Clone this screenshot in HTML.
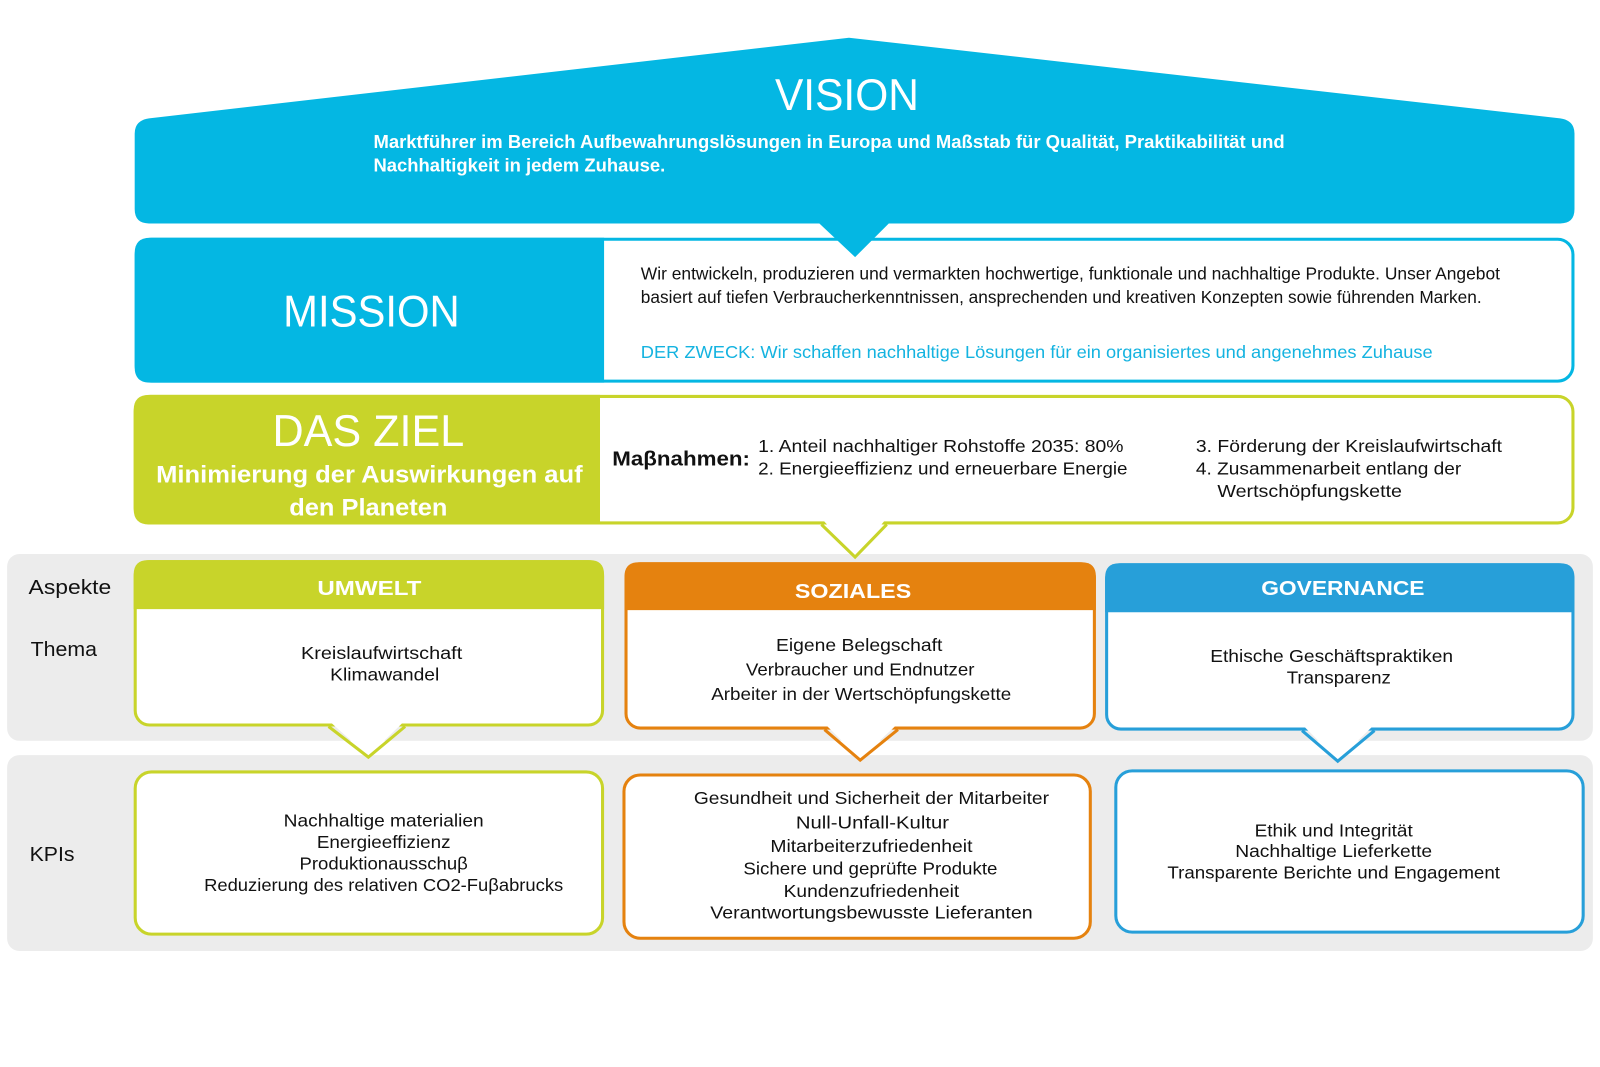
<!DOCTYPE html>
<html><head><meta charset="utf-8"><style>
html,body{margin:0;padding:0;background:#fff;}
svg{display:block;}
text{font-family:"Liberation Sans",sans-serif;}
.b{fill:#111;font-size:17px;}
.w{fill:#fff;}
</style></head><body>
<svg width="1600" height="1067" viewBox="0 0 1568 1045.7" preserveAspectRatio="none" xmlns="http://www.w3.org/2000/svg">
<!-- grey bands -->
<rect x="7" y="543" width="1554" height="183" rx="12" fill="#ececec"/>
<rect x="7" y="740" width="1554" height="192" rx="12" fill="#ececec"/>

<!-- MISSION -->
<rect x="133.5" y="234.5" width="1408" height="139" rx="15" fill="#fff" stroke="#04b7e3" stroke-width="3"/>
<path d="M592,233 L147,233 Q132,233 132,248 L132,360 Q132,375 147,375 L592,375 Z" fill="#04b7e3"/>

<!-- VISION -->
<path d="M132,131 Q132,118 146,116 L832,37 L1529,116 Q1543,118 1543,131 L1543,205 Q1543,219 1529,219 L871,219 L838,252 L803,219 L146,219 Q132,219 132,205 Z" fill="#04b7e3"/>

<text x="830" y="108" class="w" font-size="44" text-anchor="middle" textLength="141" lengthAdjust="spacingAndGlyphs">VISION</text>
<text x="366" y="145" class="w" font-size="18" font-weight="bold" textLength="893" lengthAdjust="spacingAndGlyphs">Marktführer im Bereich Aufbewahrungslösungen in Europa und Maßstab für Qualität, Praktikabilität und</text>
<text x="366" y="168" class="w" font-size="18" font-weight="bold" textLength="286" lengthAdjust="spacingAndGlyphs">Nachhaltigkeit in jedem Zuhause.</text>

<text x="364" y="320" class="w" font-size="44" text-anchor="middle" textLength="173" lengthAdjust="spacingAndGlyphs">MISSION</text>
<text x="628" y="274" class="b" font-size="16" textLength="842" lengthAdjust="spacingAndGlyphs">Wir entwickeln, produzieren und vermarkten hochwertige, funktionale und nachhaltige Produkte. Unser Angebot</text>
<text x="628" y="297" class="b" font-size="16" textLength="824" lengthAdjust="spacingAndGlyphs">basiert auf tiefen Verbraucherkenntnissen, ansprechenden und kreativen Konzepten sowie führenden Marken.</text>
<text x="628" y="351" font-size="17" fill="#14b3e0" textLength="776" lengthAdjust="spacingAndGlyphs">DER ZWECK: Wir schaffen nachhaltige Lösungen für ein organisiertes und angenehmes Zuhause</text>

<!-- DAS ZIEL -->
<rect x="132.5" y="388.5" width="1409" height="124" rx="15" fill="#fff" stroke="#c8d42a" stroke-width="3"/>
<path d="M588,387 L146,387 Q131,387 131,402 L131,499 Q131,514 146,514 L588,514 Z" fill="#c8d42a"/>
<polygon points="806,509 838,545 868,509" fill="#fff"/>
<polyline points="805,514 838,546 869,514" fill="none" stroke="#c8d42a" stroke-width="3"/>

<text x="361" y="437" class="w" font-size="44" text-anchor="middle" textLength="188" lengthAdjust="spacingAndGlyphs">DAS ZIEL</text>
<text x="362" y="473" class="w" font-size="24" font-weight="bold" text-anchor="middle" textLength="418" lengthAdjust="spacingAndGlyphs">Minimierung der Auswirkungen auf</text>
<text x="361" y="505" class="w" font-size="24" font-weight="bold" text-anchor="middle" textLength="155" lengthAdjust="spacingAndGlyphs">den Planeten</text>

<text x="600" y="456" font-size="20" font-weight="bold" fill="#111" textLength="135" lengthAdjust="spacingAndGlyphs">Maβnahmen:</text>
<text x="743" y="443" class="b" textLength="358" lengthAdjust="spacingAndGlyphs">1. Anteil nachhaltiger Rohstoffe 2035: 80%</text>
<text x="743" y="465" class="b" textLength="362" lengthAdjust="spacingAndGlyphs">2. Energieeffizienz und erneuerbare Energie</text>
<text x="1172" y="443" class="b" textLength="300" lengthAdjust="spacingAndGlyphs">3. Förderung der Kreislaufwirtschaft</text>
<text x="1172" y="465" class="b" textLength="260" lengthAdjust="spacingAndGlyphs">4. Zusammenarbeit entlang der</text>
<text x="1193" y="487" class="b" textLength="181" lengthAdjust="spacingAndGlyphs">Wertschöpfungskette</text>

<!-- labels -->
<text x="28" y="582" font-size="20" fill="#111" textLength="81" lengthAdjust="spacingAndGlyphs">Aspekte</text>
<text x="30" y="643" font-size="20" fill="#111" textLength="65" lengthAdjust="spacingAndGlyphs">Thema</text>
<text x="29" y="844" font-size="20" fill="#111" textLength="44" lengthAdjust="spacingAndGlyphs">KPIs</text>

<!-- UMWELT -->
<rect x="132.5" y="550.5" width="458" height="160" rx="14" fill="#fff" stroke="#c8d42a" stroke-width="3"/>
<path d="M131,597 L131,563 Q131,549 145,549 L578,549 Q592,549 592,563 L592,597 Z" fill="#c8d42a"/>
<polygon points="323,707 361,741 396,707" fill="#fff"/>
<polyline points="322,712 361,742 397,712" fill="none" stroke="#c8d42a" stroke-width="3"/>
<text x="362" y="583" class="w" font-size="20" font-weight="bold" text-anchor="middle" textLength="102" lengthAdjust="spacingAndGlyphs">UMWELT</text>
<text x="374" y="646" class="b" text-anchor="middle" textLength="158" lengthAdjust="spacingAndGlyphs">Kreislaufwirtschaft</text>
<text x="377" y="667" class="b" text-anchor="middle" textLength="107" lengthAdjust="spacingAndGlyphs">Klimawandel</text>

<!-- SOZIALES -->
<rect x="613.5" y="552.5" width="459" height="161" rx="14" fill="#fff" stroke="#e5820f" stroke-width="3"/>
<path d="M612,598 L612,565 Q612,551 626,551 L1060,551 Q1074,551 1074,565 L1074,598 Z" fill="#e5820f"/>
<polygon points="809,710 843,744 879,710" fill="#fff"/>
<polyline points="808,715 843,745 880,715" fill="none" stroke="#e5820f" stroke-width="3"/>
<text x="836" y="586" class="w" font-size="20" font-weight="bold" text-anchor="middle" textLength="114" lengthAdjust="spacingAndGlyphs">SOZIALES</text>
<text x="842" y="638" class="b" text-anchor="middle" textLength="163" lengthAdjust="spacingAndGlyphs">Eigene Belegschaft</text>
<text x="843" y="662" class="b" text-anchor="middle" textLength="224" lengthAdjust="spacingAndGlyphs">Verbraucher und Endnutzer</text>
<text x="844" y="686" class="b" text-anchor="middle" textLength="294" lengthAdjust="spacingAndGlyphs">Arbeiter in der Wertschöpfungskette</text>

<!-- GOVERNANCE -->
<rect x="1084.5" y="553.5" width="457" height="161" rx="14" fill="#fff" stroke="#279fd9" stroke-width="3"/>
<path d="M1083,600 L1083,566 Q1083,552 1097,552 L1529,552 Q1543,552 1543,566 L1543,600 Z" fill="#279fd9"/>
<polygon points="1277,711 1311,745 1346,711" fill="#fff"/>
<polyline points="1276,716 1311,746 1347,716" fill="none" stroke="#279fd9" stroke-width="3"/>
<text x="1316" y="583" class="w" font-size="20" font-weight="bold" text-anchor="middle" textLength="160" lengthAdjust="spacingAndGlyphs">GOVERNANCE</text>
<text x="1305" y="649" class="b" text-anchor="middle" textLength="238" lengthAdjust="spacingAndGlyphs">Ethische Geschäftspraktiken</text>
<text x="1312" y="670" class="b" text-anchor="middle" textLength="102" lengthAdjust="spacingAndGlyphs">Transparenz</text>

<!-- KPI boxes -->
<rect x="132.5" y="756.5" width="458" height="159" rx="16" fill="#fff" stroke="#c8d42a" stroke-width="3"/>
<text x="376" y="810" class="b" text-anchor="middle" textLength="196" lengthAdjust="spacingAndGlyphs">Nachhaltige materialien</text>
<text x="376" y="831" class="b" text-anchor="middle" textLength="131" lengthAdjust="spacingAndGlyphs">Energieeffizienz</text>
<text x="376" y="852" class="b" text-anchor="middle" textLength="165" lengthAdjust="spacingAndGlyphs">Produktionausschuβ</text>
<text x="376" y="873" class="b" text-anchor="middle" textLength="352" lengthAdjust="spacingAndGlyphs">Reduzierung des relativen CO2-Fuβabrucks</text>

<rect x="611.5" y="759.5" width="457" height="160" rx="16" fill="#fff" stroke="#e5820f" stroke-width="3"/>
<text x="854" y="788" class="b" text-anchor="middle" textLength="348" lengthAdjust="spacingAndGlyphs">Gesundheit und Sicherheit der Mitarbeiter</text>
<text x="855" y="812" class="b" text-anchor="middle" textLength="150" lengthAdjust="spacingAndGlyphs">Null-Unfall-Kultur</text>
<text x="854" y="835" class="b" text-anchor="middle" textLength="198" lengthAdjust="spacingAndGlyphs">Mitarbeiterzufriedenheit</text>
<text x="853" y="857" class="b" text-anchor="middle" textLength="249" lengthAdjust="spacingAndGlyphs">Sichere und geprüfte Produkte</text>
<text x="854" y="879" class="b" text-anchor="middle" textLength="172" lengthAdjust="spacingAndGlyphs">Kundenzufriedenheit</text>
<text x="854" y="900" class="b" text-anchor="middle" textLength="316" lengthAdjust="spacingAndGlyphs">Verantwortungsbewusste Lieferanten</text>

<rect x="1093.5" y="755.5" width="458" height="158" rx="16" fill="#fff" stroke="#279fd9" stroke-width="3"/>
<text x="1307" y="820" class="b" text-anchor="middle" textLength="155" lengthAdjust="spacingAndGlyphs">Ethik und Integrität</text>
<text x="1307" y="840" class="b" text-anchor="middle" textLength="193" lengthAdjust="spacingAndGlyphs">Nachhaltige Lieferkette</text>
<text x="1307" y="861" class="b" text-anchor="middle" textLength="326" lengthAdjust="spacingAndGlyphs">Transparente Berichte und Engagement</text>
</svg>
</body></html>
